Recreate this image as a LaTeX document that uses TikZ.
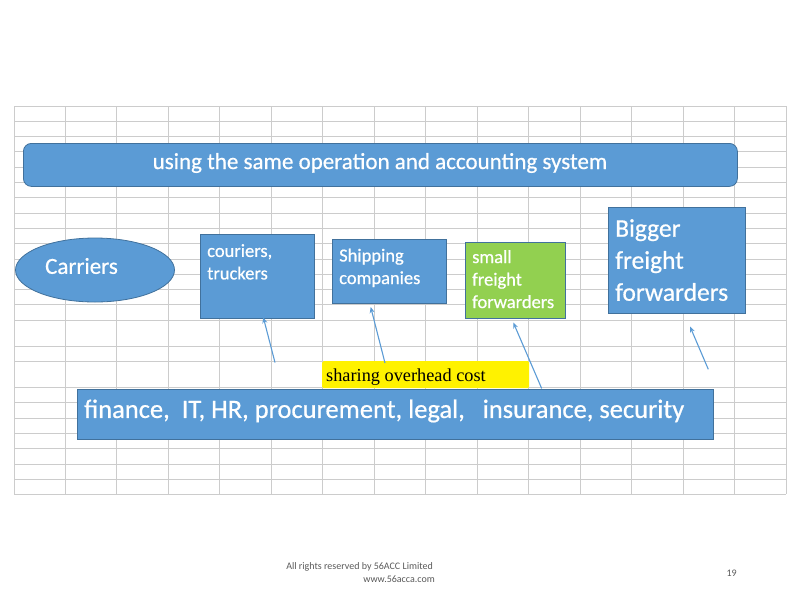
\documentclass[tikz,border=0pt]{standalone}
\usepackage{fontspec}
\setmainfont{Carlito}
\newfontfamily\thickfont{Carlito}[FakeBold=0.6]
\newfontfamily\timesf{Liberation Serif}
\usetikzlibrary{shapes.geometric,arrows.meta}
\definecolor{boxblue}{HTML}{5B9BD5}
\definecolor{boxedge}{HTML}{41719C}
\definecolor{boxgreen}{HTML}{92D050}
\definecolor{gridgray}{HTML}{CCCCCC}
\definecolor{footgray}{HTML}{595959}
\begin{document}
\begin{tikzpicture}[x=1pt,y=-1pt,
  gridline/.style={draw=gridgray, line width=1pt},
  bluebox/.style={draw=boxedge, fill=boxblue, line width=0.8pt, inner sep=0pt, anchor=north west},
  greenbox/.style={bluebox, fill=boxgreen},
  boxtext/.style={text=white, inner sep=0pt, anchor=north west, align=left},
  conn/.style={draw=boxblue, line width=1.1pt, -{Stealth[length=6pt,width=5pt]}},
  foot/.style={text=footgray, font=\fontsize{10}{12}\selectfont, inner sep=0pt}]
\useasboundingbox (0,0) rectangle (800,600);
% spreadsheet grid
\foreach \i in {0,...,15} \draw[gridline] ({14+51.47*\i},106) -- ({14+51.47*\i},494);
\foreach \i in {0,...,13} \draw[gridline] (14,{106+15.3*\i}) -- (786,{106+15.3*\i});
\foreach \y in {320.7,346.7,361.7,387.3,402.7,418.3,433.3,448.7,464,479.5,494}
  \draw[gridline] (14,\y) -- (786,\y);
% top bar
\node[bluebox, rounded corners=8pt, minimum width=714pt, minimum height=43pt] (sys) at (23,143) {};
\node[text=white, font=\thickfont\fontsize{23}{28}\selectfont, inner sep=0pt] (systxt) at (380,163) {using the same operation and accounting system};
% carriers
\node[draw=boxedge, fill=boxblue, line width=0.8pt, ellipse, minimum width=159pt, minimum height=64pt, inner sep=0pt] (car) at (95,270) {};
\node[text=white, font=\thickfont\fontsize{23}{28}\selectfont, inner sep=0pt] (cartxt) at (81.5,266) {Carriers};
% couriers
\node[bluebox, minimum width=114pt, minimum height=84pt] (cour) at (200,234) {};
\node[boxtext, font=\thickfont\fontsize{18.5}{22.5}\selectfont] (courtxt) at (207,244) {couriers,\\truckers};
% shipping
\node[bluebox, minimum width=114pt, minimum height=64pt] (ship) at (332,239) {};
\node[boxtext, font=\thickfont\fontsize{18.5}{22.5}\selectfont] (shiptxt) at (339,248.5) {Shipping\\companies};
% small freight
\node[greenbox, minimum width=100pt, minimum height=76pt] (small) at (465,242) {};
\node[boxtext, font=\thickfont\fontsize{18.5}{22.5}\selectfont] (smalltxt) at (472,250) {small\\freight\\forwarders};
% bigger freight
\node[bluebox, minimum width=137pt, minimum height=106pt] (big) at (608,207) {};
\node[boxtext, font=\thickfont\fontsize{25.5}{32}\selectfont] (bigtxt) at (615,219) {Bigger\\freight\\forwarders};
% sharing label
\node[fill=yellow, rounded corners=1.5pt, minimum width=207pt, minimum height=27pt, inner sep=0pt, anchor=north west] (share) at (322,361) {};
\node[font=\timesf\fontsize{18.3}{22}\selectfont, inner sep=0pt, anchor=west] (sharetxt) at (326,377) {sharing overhead cost};
% bottom bar
\node[bluebox, minimum width=636pt, minimum height=50pt] (fin) at (77,389) {};
\node[text=white, font=\thickfont\fontsize{26.5}{30}\selectfont, inner sep=0pt, anchor=west] (fintxt) at (84,411) {finance,\ \ IT, HR, procurement, legal,\ \ \ insurance, security};
% arrows
\coordinate (a1) at (275,362.5);
\coordinate (b1) at (263.3,317.3);
\coordinate (a2) at (385,363);
\coordinate (b2) at (370.7,307);
\coordinate (a3) at (541.7,388.5);
\coordinate (b3) at (513.3,322.5);
\coordinate (a4) at (708.3,369.3);
\coordinate (b4) at (690,326.5);
\draw[conn] (a1) -- (b1);
\draw[conn] (a2) -- (b2);
\draw[conn] (a3) -- (b3);
\draw[conn] (a4) -- (b4);
% footer
\node[foot, anchor=east] (f1) at (433,567) {All rights reserved by 56ACC Limited};
\node[foot, anchor=east] (f2) at (435,579) {www.56acca.com};
\node[foot, anchor=east] (f3) at (737,573) {19};
\end{tikzpicture}
\end{document}
